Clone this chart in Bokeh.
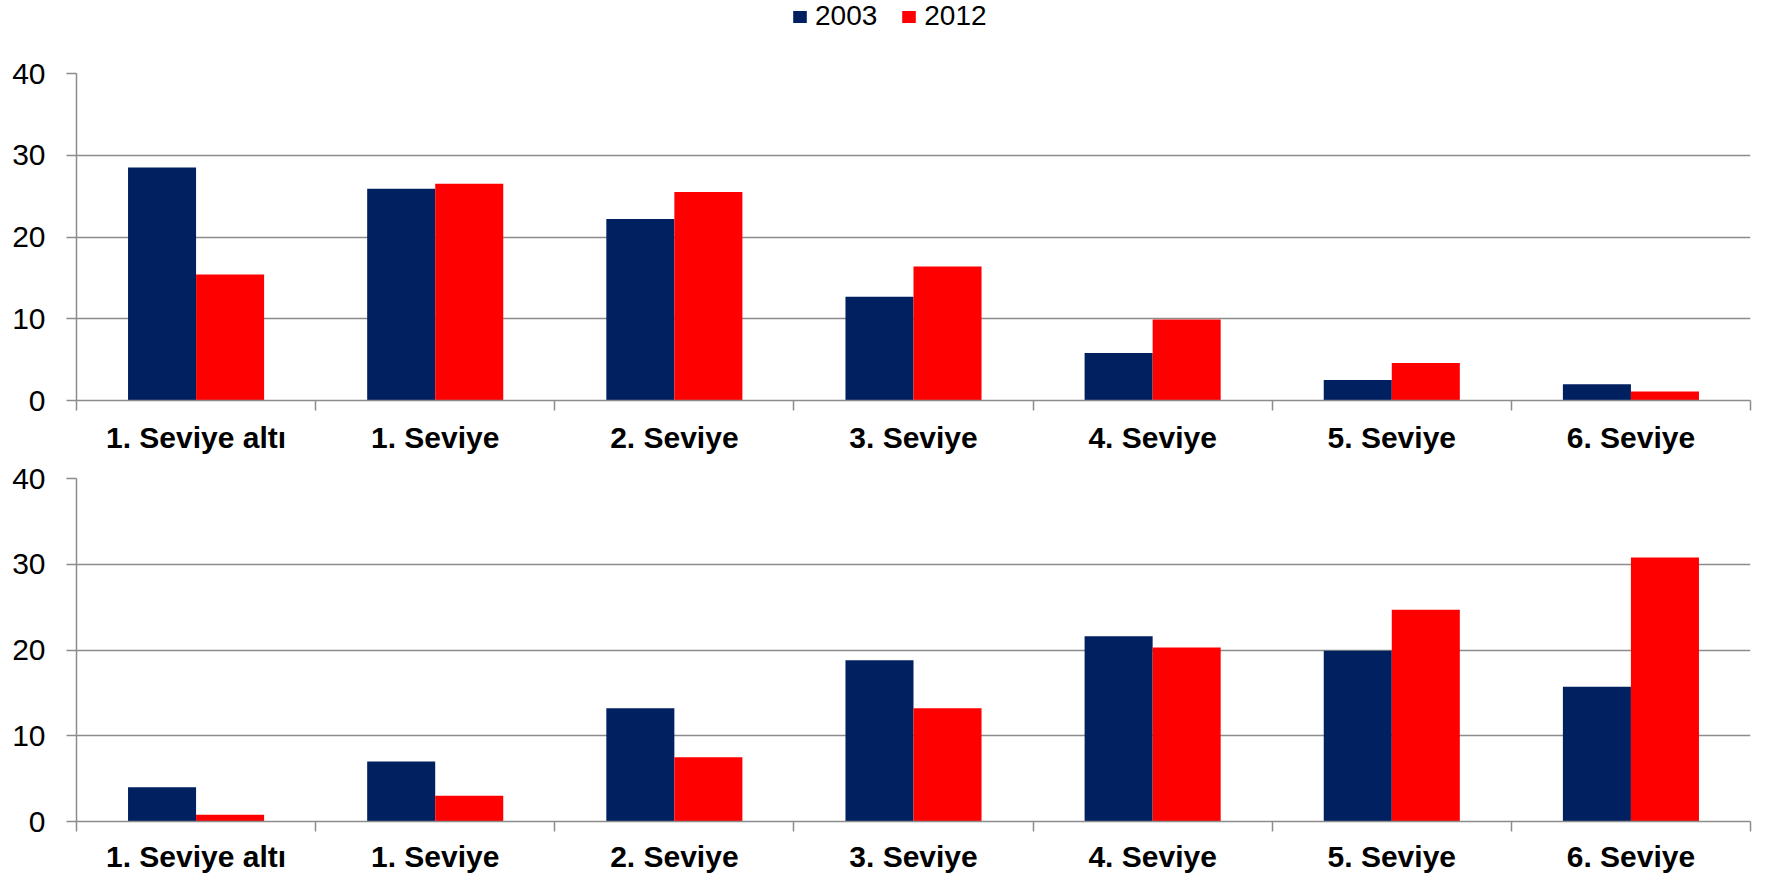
from bokeh.plotting import figure
from bokeh.layouts import column
from bokeh.models import Range1d, FixedTicker, Legend, LegendItem, ColumnDataSource
from bokeh.transform import dodge
from bokeh.embed import file_html
from bokeh.resources import INLINE

categories = ["1. Seviye altı", "1. Seviye", "2. Seviye", "3. Seviye",
              "4. Seviye", "5. Seviye", "6. Seviye"]
series_names = ["2003", "2012"]
top_2003 = [28.5, 25.9, 22.2, 12.7, 5.8, 2.5, 2.0]
top_2012 = [15.4, 26.5, 25.5, 16.4, 9.9, 4.6, 1.1]
bottom_2003 = [4.0, 7.0, 13.2, 18.8, 21.6, 19.9, 15.7]
bottom_2012 = [0.8, 3.0, 7.5, 13.2, 20.3, 24.7, 30.8]
y_ticks = [0, 10, 20, 30, 40]
colors = ["#002060", "#FF0000"]

GRID = "#8c8c8c"
W = 1756
FONT = "Liberation Sans"
BW = 0.2845
N = len(categories)
POS = [i + 0.5 for i in range(N)]


def make_panel(v_a, v_b, border_top, frame_h, border_bottom, label_standoff):
    src = ColumnDataSource(dict(x=POS, a=v_a, b=v_b))
    height = border_top + frame_h + border_bottom
    p = figure(width=W, height=height, output_backend="svg", toolbar_location=None,
               x_range=Range1d(0, N), y_range=Range1d(0, 40),
               min_border_left=76, min_border_right=6,
               min_border_top=border_top, min_border_bottom=border_bottom)
    p.vbar(x=dodge("x", -BW / 2, range=p.x_range), top="a", width=BW, source=src,
           fill_color=colors[0], line_color=None)
    p.vbar(x=dodge("x", BW / 2, range=p.x_range), top="b", width=BW, source=src,
           fill_color=colors[1], line_color=None)
    p.outline_line_color = None
    p.background_fill_color = "white"
    p.xgrid.visible = False
    p.ygrid.grid_line_color = GRID
    p.ygrid.grid_line_width = 1.5

    ya = p.yaxis[0]
    ya.ticker = FixedTicker(ticks=y_ticks)
    ya.axis_line_color = GRID
    ya.axis_line_width = 1.5
    ya.major_tick_line_color = GRID
    ya.major_tick_line_width = 1.5
    ya.major_tick_out = 10
    ya.major_tick_in = 0
    ya.minor_tick_line_color = None
    ya.minor_tick_out = 0
    ya.major_label_text_font = FONT
    ya.major_label_text_font_size = "30px"
    ya.major_label_text_color = "black"
    ya.major_label_standoff = 21

    xa = p.xaxis[0]
    xa.ticker = FixedTicker(ticks=POS, minor_ticks=list(range(N + 1)))
    xa.axis_line_color = GRID
    xa.axis_line_width = 1.5
    xa.major_tick_line_color = None
    xa.major_tick_out = 0
    xa.major_tick_in = 0
    xa.minor_tick_line_color = GRID
    xa.minor_tick_line_width = 1.5
    xa.minor_tick_out = 10
    xa.minor_tick_in = 0
    xa.major_label_overrides = {pv: c for pv, c in zip(POS, categories)}
    xa.major_label_text_font = FONT
    xa.major_label_text_font_style = "bold"
    xa.major_label_text_font_size = "30px"
    xa.major_label_text_line_height = 1.0
    xa.major_label_text_color = "black"
    xa.major_label_standoff = label_standoff
    return p


# legend strip on top (its keys use the series data, drawn hidden)
LEG_H = 50
pl = figure(width=W, height=LEG_H, output_backend="svg", toolbar_location=None,
            x_range=Range1d(0, N), y_range=Range1d(0, 40),
            x_axis_location=None, y_axis_location=None,
            min_border_left=0, min_border_right=0, min_border_top=0, min_border_bottom=0)
pl.grid.visible = False
pl.outline_line_color = None
leg_src = ColumnDataSource(dict(x=POS, a=top_2003, b=top_2012))
k1 = pl.vbar(x="x", top="a", width=BW, source=leg_src, fill_color=colors[0], line_color=None)
k2 = pl.vbar(x="x", top="b", width=BW, source=leg_src, fill_color=colors[1], line_color=None)
k1.visible = False
k2.visible = False
legend = Legend(items=[LegendItem(label=series_names[0], renderers=[k1]),
                       LegendItem(label=series_names[1], renderers=[k2])],
                orientation="horizontal", location=(715, 18),
                glyph_width=17, glyph_height=15, label_standoff=7,
                spacing=23, padding=0, margin=0,
                label_text_font=FONT, label_text_font_size="28px",
                label_text_color="black", inactive_fill_alpha=0,
                border_line_color=None, background_fill_alpha=0)
pl.add_layout(legend, "center")

p1 = make_panel(top_2003, top_2012, 23, 327, 58, 10)
p2 = make_panel(bottom_2003, bottom_2012, 20, 343, 56, 8)
layout = column(pl, p1, p2, spacing=0)

open("out.html", "w").write(file_html(layout, INLINE))
